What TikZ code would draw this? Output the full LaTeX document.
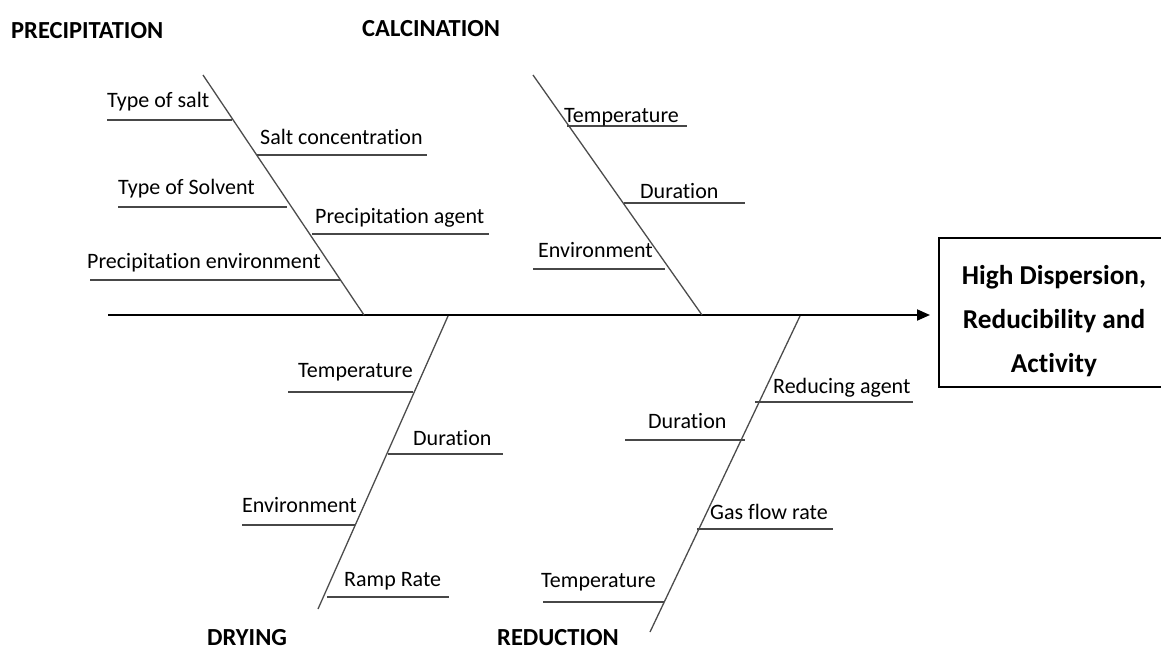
\documentclass[tikz,border=0pt]{standalone}
\usepackage{fontspec}
\setmainfont{Carlito}[Ligatures=CommonOff]
\usetikzlibrary{arrows.meta, positioning}

\begin{document}
\begin{tikzpicture}[
    x=1pt, y=-1pt,
    >={Triangle[length=13pt,width=11pt]},
    every node/.style={font=\fontsize{22}{26}\selectfont, inner sep=0pt},
    cause/.style={anchor=base west, font=\fontsize{24.5}{28}\selectfont\bfseries},
    bone/.style={line width=1.3pt, black!70},
    twig/.style={line width=1.9pt, black!72},
    effect/.style={draw, line width=1.6pt, minimum width=250pt, minimum height=149pt, anchor=west}
]
\clip (0,0) rectangle (1161,649);

% Effect
\node[effect] (effect) at (938,312.5) {};
\node[align=center, font=\fontsize{27.3}{44}\selectfont\bfseries] (result) at (1054,321) {High Dispersion,\\Reducibility and\\Activity};

% Spine
\coordinate (tail) at (108,315);
\draw[line width=2pt, ->, shorten >=8pt] (tail) -- (tail -| effect.west);

% Main bones
\coordinate (prectop) at (203,75);
\coordinate (precfoot) at (364,315);
\coordinate (calctop) at (533,75);
\coordinate (calcfoot) at (702,315);
\coordinate (drytop) at (448,316);
\coordinate (dryfoot) at (318,609);
\coordinate (redtop) at (800,316);
\coordinate (redfoot) at (650,632);
\draw[bone] (prectop) -- (precfoot);
\draw[bone] (calctop) -- (calcfoot);
\draw[bone] (drytop) -- (dryfoot);
\draw[bone] (redtop) -- (redfoot);

% Causes
\node[cause] (precip) at (11,38) {PRECIPITATION};
\node[cause] (calcin) at (362,36) {CALCINATION};
\node[cause] (drying) at (207,645) {DRYING};
\node[cause] (reduct) at (497,645) {REDUCTION};

% Sub-causes (line from xa to xb at yy, text at xt/yt)
\foreach \xa/\xb/\yy/\xt/\yt/\nm/\txt in {
    107/232/120/107/107/psalt/Type of salt,
    257/427/155/260/144/pconc/Salt concentration,
    118/287/207/118/194/psolv/Type of Solvent,
    312/489/234/315/223/pagent/Precipitation agent,
    90/340/280/87/268/penv/Precipitation environment,
    567/687/126/564/122/ctemp/Temperature,
    624/745/203/640/198/cdur/Duration,
    533/665/269/538/257/cenv/Environment,
    288/413/392/298/377/dtemp/Temperature,
    388/503/454/413/445/ddur/Duration,
    242/355/525/242/512/denv/Environment,
    327/449/597/344/586/dramp/Ramp Rate,
    755/913/402/773/393/ragent/Reducing agent,
    625/745/440/648/428/rdur/Duration,
    697/833/529/710/519/rgas/Gas flow rate,
    543/664/602/541/587/rtemp/Temperature}
{
    \draw[twig] (\xa,\yy) -- (\xb,\yy);
    \node[anchor=base west] (\nm) at (\xt,\yt) {\txt};
}

\end{tikzpicture}
\end{document}
